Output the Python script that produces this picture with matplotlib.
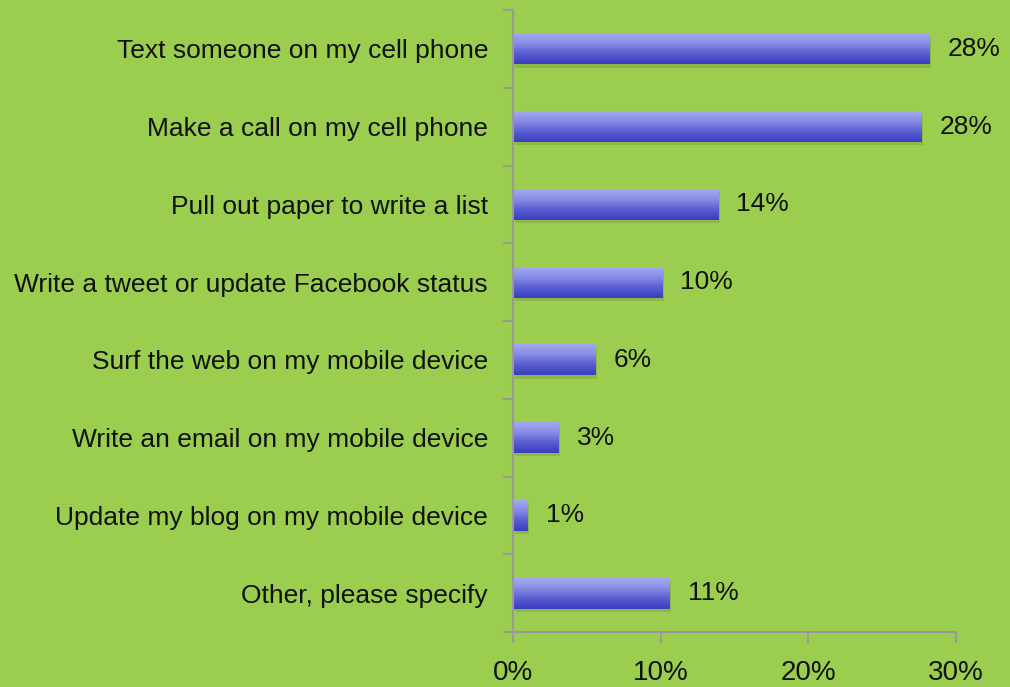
import matplotlib
matplotlib.use("Agg")
import matplotlib.pyplot as plt
import numpy as np
from matplotlib.colors import LinearSegmentedColormap

categories = ["Text someone on my cell phone", "Make a call on my cell phone",
              "Pull out paper to write a list", "Write a tweet or update Facebook status",
              "Surf the web on my mobile device", "Write an email on my mobile device",
              "Update my blog on my mobile device", "Other, please specify"]
values = [28.2, 27.7, 13.9, 10.1, 5.6, 3.1, 1.0, 10.6]
labels = ["28%", "28%", "14%", "10%", "6%", "3%", "1%", "11%"]
xticks = [0, 10, 20, 30]
xticklabels = ["0%", "10%", "20%", "30%"]

bg = "#9BCD4E"
plt.rcParams['font.family'] = ['Liberation Sans', 'DejaVu Sans']
fig = plt.figure(figsize=(10.10, 6.87), dpi=100, facecolor=bg)
ax = fig.add_axes([0.508, 0.080, 0.4385, 0.9054])
ax.set_facecolor(bg)

n = len(categories)
ypos = np.arange(n)
cmap = LinearSegmentedColormap.from_list("g", ["#A7ABF2", "#8A8EE4", "#5A5ED2", "#3A3DBE"])
grad = np.linspace(0, 1, 64).reshape(-1, 1)
h = 0.4
for y, v in zip(ypos, values):
    ax.barh(y + 0.04, v, height=h, left=0.1, color="#000000", alpha=0.10, zorder=1, linewidth=0)
    bars = ax.barh(y, v, height=h, color="none", edgecolor="none", zorder=3)
    patch = bars[0]
    im = ax.imshow(grad, extent=[0, v, y + h / 2, y - h / 2], cmap=cmap, aspect="auto",
                   zorder=2, interpolation="bicubic")
    im.set_clip_path(patch)

for y, v, lab in zip(ypos, values, labels):
    ax.annotate(lab, (v, y), xytext=(13, 0), textcoords="offset points",
                va="center", ha="left", fontsize=19, color="#111111")

ax.set_xlim(0, 30)
ax.set_ylim(n - 0.5, -0.5)
ax.set_yticks(ypos)
ax.set_yticklabels(categories, fontsize=19, color="#111111")
ax.set_yticks(np.arange(n + 1) - 0.5, minor=True)
ax.tick_params(axis="y", which="major", length=0, pad=18)
ax.tick_params(axis="y", which="minor", length=7, color="#999999", width=1.5)
ax.set_xticks(xticks)
ax.set_xticklabels(xticklabels, fontsize=20, color="#111111")
ax.tick_params(axis="x", length=8, color="#999999", width=1.5, pad=12)
for s in ["top", "right"]:
    ax.spines[s].set_visible(False)
for s in ["left", "bottom"]:
    ax.spines[s].set_color("#999999")
    ax.spines[s].set_linewidth(1.5)

fig.savefig("out.png", dpi=100, facecolor=bg)
